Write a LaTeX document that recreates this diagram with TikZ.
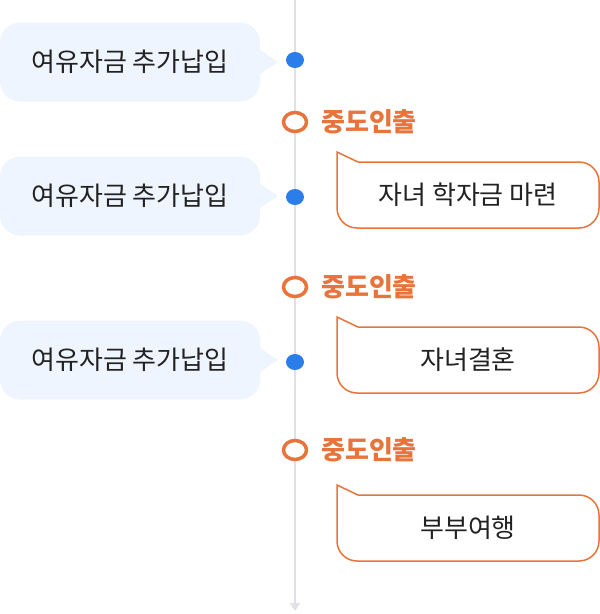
\documentclass[tikz,border=0pt]{standalone}
\usepackage{fontspec}
\setmainfont{Noto Sans CJK KR}
\usetikzlibrary{shapes.geometric,arrows.meta}
\definecolor{tlgray}{HTML}{DFE1E6}
\definecolor{tlblue}{HTML}{2B7DE9}
\definecolor{tlorange}{HTML}{E8743B}
\definecolor{tlfill}{HTML}{EFF5FE}
\definecolor{tltext}{HTML}{222222}
\tikzset{
  pay/.style={rectangle,rounded corners=20,fill=tlfill,minimum width=260,minimum height=79,
    text=tltext,font=\fontsize{26}{30}\selectfont,inner sep=0},
  dot/.style={ellipse,fill=tlblue,minimum width=18,minimum height=16,inner sep=0},
  ring/.style={ellipse,draw=tlorange,line width=3.5,fill=white,minimum width=23,minimum height=19,inner sep=0},
  draw out/.style={text=tlorange,font=\bfseries\fontsize{26}{30}\selectfont,anchor=west,inner sep=0},
  goal/.style={text=tltext,font=\fontsize{26}{30}\selectfont,inner sep=0},
  goalbox/.style={draw=tlorange,line width=1.5,fill=white}
}
\begin{document}
\begin{tikzpicture}[x=1pt,y=-1pt]
\useasboundingbox (0,0) rectangle (600,614);
\coordinate (top) at (295,0);
\coordinate (bottom) at (295,611);
\draw[tlgray,line width=2,-{Triangle[width=10,length=8]}] (top) -- (bottom);

\node[pay] (p1) at (130,62) {여유자금 추가납입};
\node[pay] (p2) at (130,196) {여유자금 추가납입};
\node[pay] (p3) at (130,360) {여유자금 추가납입};
\foreach \i/\y in {1/62,2/196,3/360}{
  \fill[tlfill] ([yshift=-12]p\i.east) -- (278,\y) -- ([yshift=12]p\i.east) -- cycle;
}

\node[dot] (d1) at (295,60) {};
\node[dot] (d2) at (295,197) {};
\node[dot] (d3) at (295,362) {};

\node[ring] (w1) at (295,122) {};
\node[ring] (w2) at (295,287) {};
\node[ring] (w3) at (295,450) {};
\node[draw out] (l1) at (321,122) {중도인출};
\node[draw out] (l2) at (321,287) {중도인출};
\node[draw out] (l3) at (321,450) {중도인출};

\foreach \y in {152,317,485}{
  \draw[goalbox] (337,\y) -- (358,\y+10) -- (579,\y+10) arc[start angle=-90,end angle=0,radius=20]
    -- (599,\y+56) arc[start angle=0,end angle=90,radius=20]
    -- (357,\y+76) arc[start angle=90,end angle=180,radius=20] -- cycle;
}
\node[goal] (g1) at (468,195) {자녀 학자금 마련};
\node[goal] (g2) at (468,360) {자녀결혼};
\node[goal] (g3) at (468,528) {부부여행};
\end{tikzpicture}
\end{document}
